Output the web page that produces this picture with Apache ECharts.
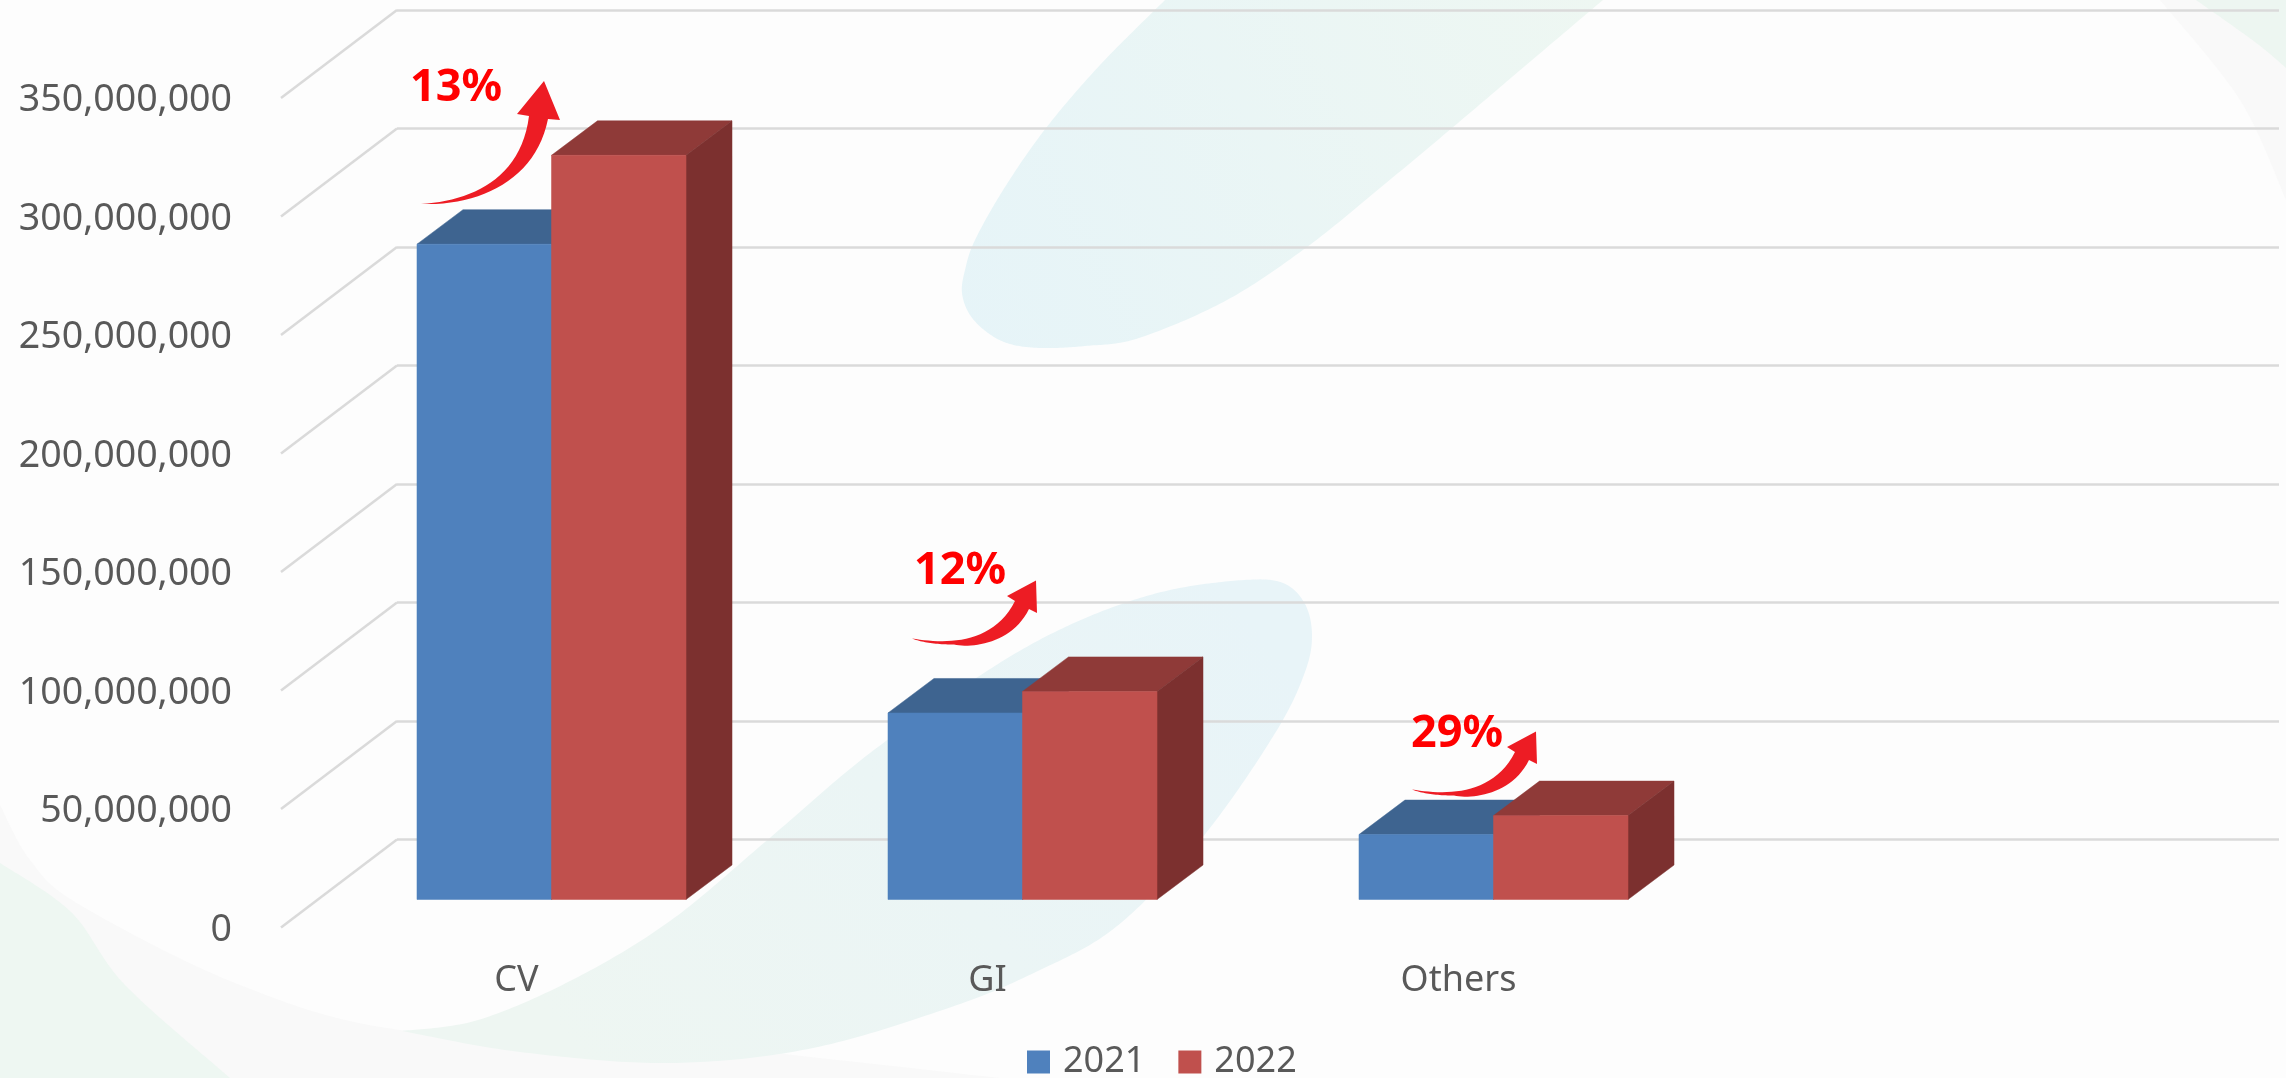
<!DOCTYPE html>
<html>
<head>
<meta charset="utf-8">
<style>html,body{margin:0;padding:0;background:#fdfdfd}#c{width:2286px;height:1078px}</style>
<script src="https://cdn.jsdelivr.net/npm/echarts@6/dist/echarts.min.js"></script>
</head>
<body>
<div id="c"></div>
<script>
const categories = ['CV', 'GI', 'Others', ''];
const values2021 = [276500000, 78700000, 27400000];
const values2022 = [314000000, 87800000, 35400000];
const growthLabels = ['13%', '12%', '29%'];
const axisMax = 350000000;
const axisStep = 50000000;

const FONT = '"Noto Sans", sans-serif';
const GREY = '#595959';
const GRID_C = '#dadada';
const H = 829.5, W = 1884;
const BAR_RATIO = 0.2856, DX = 46, DY = -34.5;
const FRONT_DX = -116, FRONT_DY = 88;

function ticks() { const t = []; for (let v = 0; v <= axisMax; v += axisStep) t.push(v); return t; }

function barRender(sign, front, top, side) {
  return function (params, api) {
    const c = api.value(0), v = api.value(1);
    const p = api.coord([c, v]), b = api.coord([c, 0]);
    const w = api.size([1, 0])[0] * BAR_RATIO;
    const x0 = sign < 0 ? p[0] - w : p[0], x1 = x0 + w;
    const yT = p[1], yB = b[1];
    const poly = (pts, fill) => ({ type: 'polygon', shape: { points: pts }, style: { fill: fill, stroke: fill, lineWidth: 0.5 } });
    return {
      type: 'group',
      children: [
        poly([[x0, yT], [x0 + DX, yT + DY], [x1 + DX, yT + DY], [x1, yT]], top),
        poly([[x1, yT], [x1 + DX, yT + DY], [x1 + DX, yB + DY], [x1, yB]], side),
        poly([[x0, yT], [x1, yT], [x1, yB], [x0, yB]], front)
      ]
    };
  };
}

/* sampled outlines for the decorative shapes: the graphic component draws them as polygons */
function cubic(a, b, c, d, out) {
  for (let k = 1; k <= 24; k++) {
    const t = k / 24, u = 1 - t;
    out.push([
      u * u * u * a[0] + 3 * u * u * t * b[0] + 3 * u * t * t * c[0] + t * t * t * d[0],
      u * u * u * a[1] + 3 * u * u * t * b[1] + 3 * u * t * t * c[1] + t * t * t * d[1]
    ]);
  }
}
function smooth(pts, tail) {
  const out = [pts[0]];
  for (let i = 0; i < pts.length - 1; i++) {
    const p0 = pts[Math.max(i - 1, 0)], p1 = pts[i], p2 = pts[i + 1], p3 = pts[Math.min(i + 2, pts.length - 1)];
    cubic(p1, [p1[0] + (p2[0] - p0[0]) / 6, p1[1] + (p2[1] - p0[1]) / 6],
      [p2[0] - (p3[0] - p1[0]) / 6, p2[1] - (p3[1] - p1[1]) / 6], p2, out);
  }
  return out.concat(tail || []);
}
function arrowOutline(ops) {
  const out = [[0, 0]];
  ops.forEach((o) => {
    if (o.length === 2) out.push(o);
    else cubic(out[out.length - 1], [o[0], o[1]], [o[2], o[3]], [o[4], o[5]], out);
  });
  return out;
}

const leafTop = smooth([[1603, 0], [1525, 66], [1452, 128], [1380, 188], [1307, 247], [1227, 300], [1139, 338], [1085, 346], [1041, 348], [1010, 344], [988, 333], [970, 315], [962, 293], [965, 270], [975, 240], [1005, 187], [1046, 128], [1100, 65], [1165, 0]]);
const leafMid = smooth([[402, 1031], [478, 1020], [574, 979], [670, 921], [765, 842], [861, 760], [957, 691], [1030, 645], [1100, 612], [1170, 590], [1244, 580], [1283, 583], [1305, 604], [1312, 636], [1305, 672], [1280, 725], [1225, 808], [1170, 875], [1108, 933], [1040, 970], [957, 1005], [813, 1048], [670, 1063], [520, 1052], [402, 1031]]);
const greyBand = smooth([[0, 805], [30, 860], [80, 905], [240, 985], [400, 1030], [640, 1040], [1000, 1078]], [[0, 1078]]);
const greenCorner = smooth([[0, 863], [71, 912], [125, 985], [230, 1078]], [[0, 1078]]);
const greyTop = smooth([[2160, 0], [2240, 100], [2286, 200]], [[2286, 0]]);
const greenTop = smooth([[2196, 0], [2255, 42], [2286, 68]], [[2286, 0]]);

const arrowCV = arrowOutline([[50, -3, 100, -25, 108, -88], [96, -90], [123, -123], [139, -84], [127, -85], [115, -25, 60, 2, 0, 0]]);
const arrowSmall = arrowOutline([[30, 5, 80, 8, 103, -37.5], [95, -42.5], [124, -58], [125, -25.5], [117, -29.5], [100, 5, 60, 10, 42, 6], [25, 6, 10, 4, 0, 0]]);

const arrowPlace = [[421, 204, arrowCV], [912, 638.5, arrowSmall], [1412, 789.5, arrowSmall]];
const labelPlace = [[456, 88], [960, 571], [1457, 734]];

const bg = (pts, fill) => ({ type: 'polygon', z: -10, silent: true, shape: { points: pts }, style: { fill: fill } });
const graphicEls = [
  bg(greyBand, '#f9f9f9'),
  bg(greenCorner, '#eef7f2'),
  bg(greyTop, '#f9f9f9'),
  bg(greenTop, '#edf6f1'),
  bg(leafTop, new echarts.graphic.LinearGradient(0, 1, 1, 0, [{ offset: 0, color: '#e6f4f8' }, { offset: 1, color: '#eef7f2' }])),
  bg(leafMid, new echarts.graphic.LinearGradient(0.2, 1, 0.9, 0, [{ offset: 0, color: '#eef6f2' }, { offset: 1, color: '#e8f4f8' }]))
];
growthLabels.forEach((t, i) => {
  graphicEls.push({ type: 'polygon', z: 100, silent: true, x: arrowPlace[i][0], y: arrowPlace[i][1], shape: { points: arrowPlace[i][2] }, style: { fill: '#ed1c24' } });
  graphicEls.push({ type: 'text', z: 101, silent: true, x: labelPlace[i][0], y: labelPlace[i][1], style: { text: t, fill: '#ff0000', font: 'bold 45px ' + FONT, textAlign: 'center', textVerticalAlign: 'middle' } });
});

const hiddenX = (gridIndex) => ({ type: 'category', gridIndex, data: categories, show: false });
const hiddenY = (gridIndex) => ({ type: 'value', gridIndex, min: 0, max: axisMax, interval: axisStep, show: false });

const option = {
  backgroundColor: '#fdfdfd',
  animation: false,
  graphic: { elements: graphicEls },
  grid: [
    { left: 397, top: 10, width: 1882, height: H },
    { left: 281, top: 100.5, width: W, height: H },
    { left: 316, top: 70, width: W, height: H }
  ],
  xAxis: [
    hiddenX(0),
    {
      type: 'category', gridIndex: 1, data: categories,
      axisLine: { show: false }, axisTick: { show: false },
      axisLabel: { color: GREY, fontFamily: FONT, fontSize: 36, margin: 33, interval: 0 }
    },
    hiddenX(2)
  ],
  yAxis: [
    {
      type: 'value', gridIndex: 0, min: 0, max: axisMax, interval: axisStep,
      axisLine: { show: false }, axisTick: { show: false }, axisLabel: { show: false },
      splitLine: { show: true, lineStyle: { color: GRID_C, width: 2.5 } }
    },
    {
      type: 'value', gridIndex: 1, min: 0, max: axisMax, interval: axisStep,
      axisLine: { show: false }, axisTick: { show: false },
      axisLabel: {
        color: GREY, fontFamily: FONT, fontSize: 37.5, margin: 49,
        formatter: (v) => v.toLocaleString('en-US')
      },
      splitLine: { show: false }
    },
    hiddenY(2)
  ],
  legend: {
    data: [{ name: '2021', icon: 'rect' }, { name: '2022', icon: 'rect' }],
    left: 1027, top: 1044, padding: 0, itemWidth: 23, itemHeight: 23, itemGap: 33, selectedMode: false,
    textStyle: { color: GREY, fontFamily: FONT, fontSize: 36, padding: [0, 0, 0, 8] }
  },
  series: [
    {
      name: 'walls', type: 'custom', xAxisIndex: 0, yAxisIndex: 0, silent: true, z: 1, clip: false,
      data: ticks().map((v) => [0, v]),
      encode: { x: 0, y: 1 },
      renderItem: (params, api) => {
        const y = api.coord([0, api.value(1)])[1], x = params.coordSys.x;
        return {
          type: 'line',
          shape: { x1: x + FRONT_DX, y1: y + FRONT_DY, x2: x, y2: y },
          style: { stroke: GRID_C, lineWidth: 2.5 }
        };
      }
    },
    {
      name: '2021', type: 'custom', xAxisIndex: 2, yAxisIndex: 2, z: 3, clip: false,
      itemStyle: { color: '#4f81bd' },
      data: values2021.map((v, i) => [i, v]),
      encode: { x: 0, y: 1 },
      renderItem: barRender(-1, '#4f81bd', '#3e6490', '#3a5f8c')
    },
    {
      name: '2022', type: 'custom', xAxisIndex: 2, yAxisIndex: 2, z: 4, clip: false,
      itemStyle: { color: '#c0504d' },
      data: values2022.map((v, i) => [i, v]),
      encode: { x: 0, y: 1 },
      renderItem: barRender(1, '#c0504d', '#8f3a38', '#7c302f')
    }
  ]
};
echarts.init(document.getElementById('c'), null, { renderer: 'canvas' }).setOption(option);
</script>
</body>
</html>
